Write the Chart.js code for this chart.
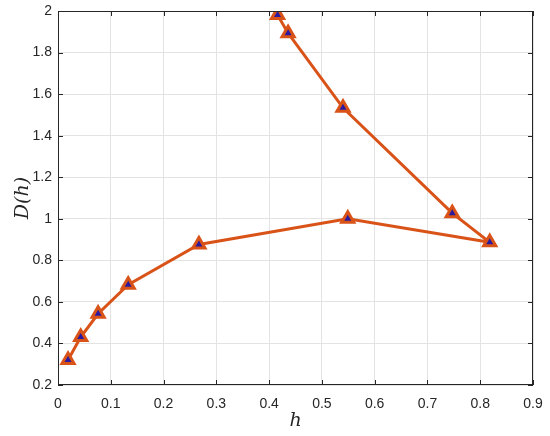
<!DOCTYPE html>
<html>
<head>
<meta charset="utf-8">
<script src="https://cdn.jsdelivr.net/npm/chart.js@4.4.0/dist/chart.umd.min.js"></script>
<style>
  html, body { margin: 0; padding: 0; background: #fff; }
  #wrap { width: 550px; height: 436px; }
</style>
</head>
<body>
<div id="wrap"><canvas id="spectrum"></canvas></div>
<script>
// Multifractal spectrum D(h), in the order the line runs
const hValues = [0.019, 0.043, 0.076, 0.133, 0.267, 0.549, 0.818, 0.747, 0.540, 0.436, 0.416];
const dValues = [0.32, 0.431, 0.543, 0.683, 0.876, 1.0, 0.887, 1.027, 1.534, 1.893, 1.981];

const xTicks = [0, 0.1, 0.2, 0.3, 0.4, 0.5, 0.6, 0.7, 0.8, 0.9];
const yTicks = [0.2, 0.4, 0.6, 0.8, 1, 1.2, 1.4, 1.6, 1.8, 2];

const points = hValues.map((h, i) => ({ x: h, y: dValues[i] }));

// MATLAB style box with small inward ticks on all four sides
const boxTicks = {
  id: 'boxTicks',
  afterDraw(chart) {
    const { ctx, chartArea: a, scales } = chart;
    ctx.save();
    ctx.strokeStyle = '#262626';
    ctx.lineWidth = 1;
    ctx.strokeRect(a.left + 0.5, a.top + 0.5, a.right - a.left - 1, a.bottom - a.top - 1);
    const len = 5;
    ctx.beginPath();
    xTicks.forEach(v => {
      const px = Math.round(scales.x.getPixelForValue(v)) + 0.5;
      ctx.moveTo(px, a.bottom); ctx.lineTo(px, a.bottom - len);
      ctx.moveTo(px, a.top); ctx.lineTo(px, a.top + len);
    });
    yTicks.forEach(v => {
      const py = Math.round(scales.y.getPixelForValue(v)) + 0.5;
      ctx.moveTo(a.left, py); ctx.lineTo(a.left + len, py);
      ctx.moveTo(a.right, py); ctx.lineTo(a.right - len, py);
    });
    ctx.stroke();
    ctx.restore();
  }
};

new Chart(document.getElementById('spectrum'), {
  type: 'scatter',
  data: {
    datasets: [{
      data: points,
      showLine: true,
      borderColor: '#D95319',
      borderWidth: 3,
      pointStyle: 'triangle',
      pointRadius: 7,
      pointBorderWidth: 3,
      pointBorderColor: '#D95319',
      pointBackgroundColor: '#2a1aa0',
      pointHoverRadius: 7
    }]
  },
  options: {
    responsive: true,
    maintainAspectRatio: false,
    animation: false,
    layout: { padding: { top: 11, right: 17, left: 8, bottom: 0 } },
    plugins: {
      legend: { display: false },
      tooltip: { enabled: false }
    },
    scales: {
      x: {
        type: 'linear',
        min: 0,
        max: 0.9,
        afterBuildTicks: s => { s.ticks = xTicks.map(v => ({ value: v })); },
        afterFit: s => { s.height = 51; s.paddingLeft = 0; s.paddingRight = 0; },
        border: { display: false },
        grid: { color: '#e3e3e3', drawTicks: false },
        ticks: {
          padding: 11,
          color: '#262626',
          font: { family: "'Liberation Sans', Arial, sans-serif", size: 14 },
          callback: v => String(v)
        },
        title: {
          display: true,
          text: 'h',
          color: '#262626',
          padding: { top: 0 },
          font: { family: "'DejaVu Serif', 'Liberation Serif', serif", style: 'italic', size: 19 }
        }
      },
      y: {
        type: 'linear',
        min: 0.2,
        max: 2,
        afterBuildTicks: s => { s.ticks = yTicks.map(v => ({ value: v })); },
        afterFit: s => { s.width = 50; s.paddingTop = 0; s.paddingBottom = 0; },
        border: { display: false },
        grid: { color: '#e3e3e3', drawTicks: false },
        ticks: {
          padding: 6,
          color: '#262626',
          font: { family: "'Liberation Sans', Arial, sans-serif", size: 14 },
          callback: v => String(v)
        },
        title: {
          display: true,
          text: 'D(h)',
          color: '#262626',
          padding: { bottom: 2 },
          font: { family: "'DejaVu Serif', 'Liberation Serif', serif", style: 'italic', size: 19 }
        }
      }
    }
  },
  plugins: [boxTicks]
});
</script>
</body>
</html>
